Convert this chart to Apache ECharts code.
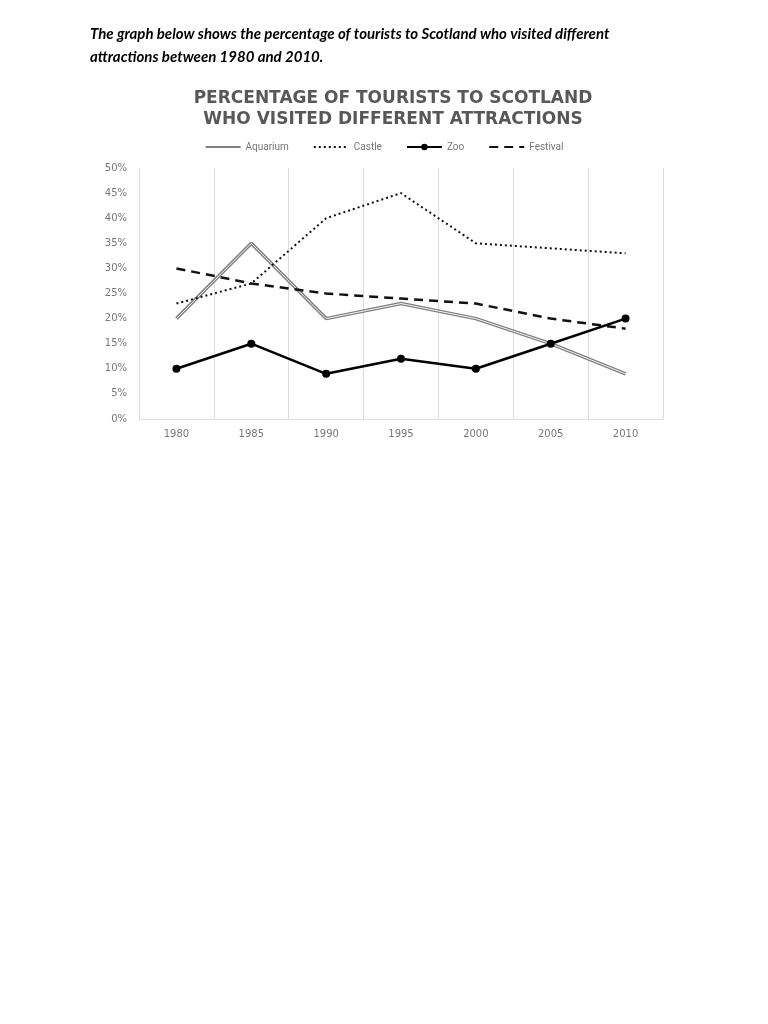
<!DOCTYPE html>
<html>
<head>
<meta charset="utf-8">
<script src="https://cdn.jsdelivr.net/npm/echarts@6/dist/echarts.min.js"></script>
<style>
  html, body { margin: 0; padding: 0; background: #fff; }
  #main { width: 768px; height: 1024px; }
</style>
</head>
<body>
<div id="main"></div>
<script>
const years = ['1980', '1985', '1990', '1995', '2000', '2005', '2010'];
const aquarium = [20, 35, 20, 23, 20, 15, 9];
const castle = [23, 27, 40, 45, 35, 34, 33];
const zoo = [10, 15, 9, 12, 10, 15, 20];
const festival = [30, 27, 25, 24, 23, 20, 18];

const chart = echarts.init(document.getElementById('main'));

// legend entries without a marker, except Zoo
const noMark = { opacity: 0 };

const option = {
  backgroundColor: '#fff',
  animation: false,
  graphic: [
    {
      type: 'text',
      left: 90,
      top: 23,
      style: {
        text: 'The graph below shows the percentage of tourists to Scotland who visited different\nattractions between 1980 and 2010.',
        font: 'italic bold 15px Lato',
        lineHeight: 23,
        fill: '#000'
      }
    }
  ],
  title: {
    text: 'PERCENTAGE OF TOURISTS TO SCOTLAND\nWHO VISITED DIFFERENT ATTRACTIONS',
    left: 388,
    textAlign: 'center',
    top: 83,
    textStyle: {
      fontFamily: 'DejaVu Sans',
      fontWeight: 'bold',
      fontSize: 17,
      lineHeight: 21,
      color: '#585858'
    }
  },
  legend: {
    top: 137,
    left: 'center',
    data: [
      { name: 'Aquarium', itemStyle: noMark },
      { name: 'Castle', itemStyle: noMark },
      { name: 'Zoo' },
      { name: 'Festival', itemStyle: noMark }
    ],
    itemWidth: 35,
    itemHeight: 8,
    itemGap: 24,
    textStyle: { fontFamily: 'Roboto', fontSize: 10, color: '#777' }
  },
  grid: { left: 139, right: 105, top: 168, bottom: 605 },
  xAxis: {
    type: 'category',
    data: years,
    boundaryGap: true,
    axisLine: { lineStyle: { color: '#ddd' } },
    axisTick: { show: false },
    splitLine: { show: true, lineStyle: { color: '#ddd' } },
    axisLabel: { color: '#777', fontFamily: 'DejaVu Sans', fontSize: 10, margin: 10 }
  },
  yAxis: {
    type: 'value',
    min: 0,
    max: 50,
    interval: 5,
    axisLine: { show: false },
    axisTick: { show: false },
    splitLine: { show: false },
    axisLabel: { formatter: '{value}%', color: '#777', fontFamily: 'DejaVu Sans', fontSize: 10, margin: 12 }
  },
  series: [
    {
      name: 'Aquarium',
      type: 'line',
      data: aquarium,
      symbol: 'none',
      color: '#808080',
      lineStyle: { color: '#808080', width: 3.5 }
    },
    {
      name: 'Aquarium inner',
      type: 'line',
      data: aquarium,
      symbol: 'none',
      color: '#fff',
      lineStyle: { color: '#f4f4f4', width: 1 }
    },
    {
      name: 'Castle',
      type: 'line',
      data: castle,
      symbol: 'none',
      color: '#111',
      lineStyle: { color: '#111', width: 2, type: [2, 3] }
    },
    {
      name: 'Festival',
      type: 'line',
      data: festival,
      symbol: 'none',
      color: '#111',
      lineStyle: { color: '#111', width: 2.5, type: [9, 6] }
    },
    {
      name: 'Zoo',
      type: 'line',
      data: zoo,
      symbol: 'circle',
      symbolSize: 8,
      color: '#000',
      itemStyle: { color: '#000' },
      lineStyle: { color: '#000', width: 2.5 }
    }
  ]
};

chart.setOption(option);
</script>
</body>
</html>
